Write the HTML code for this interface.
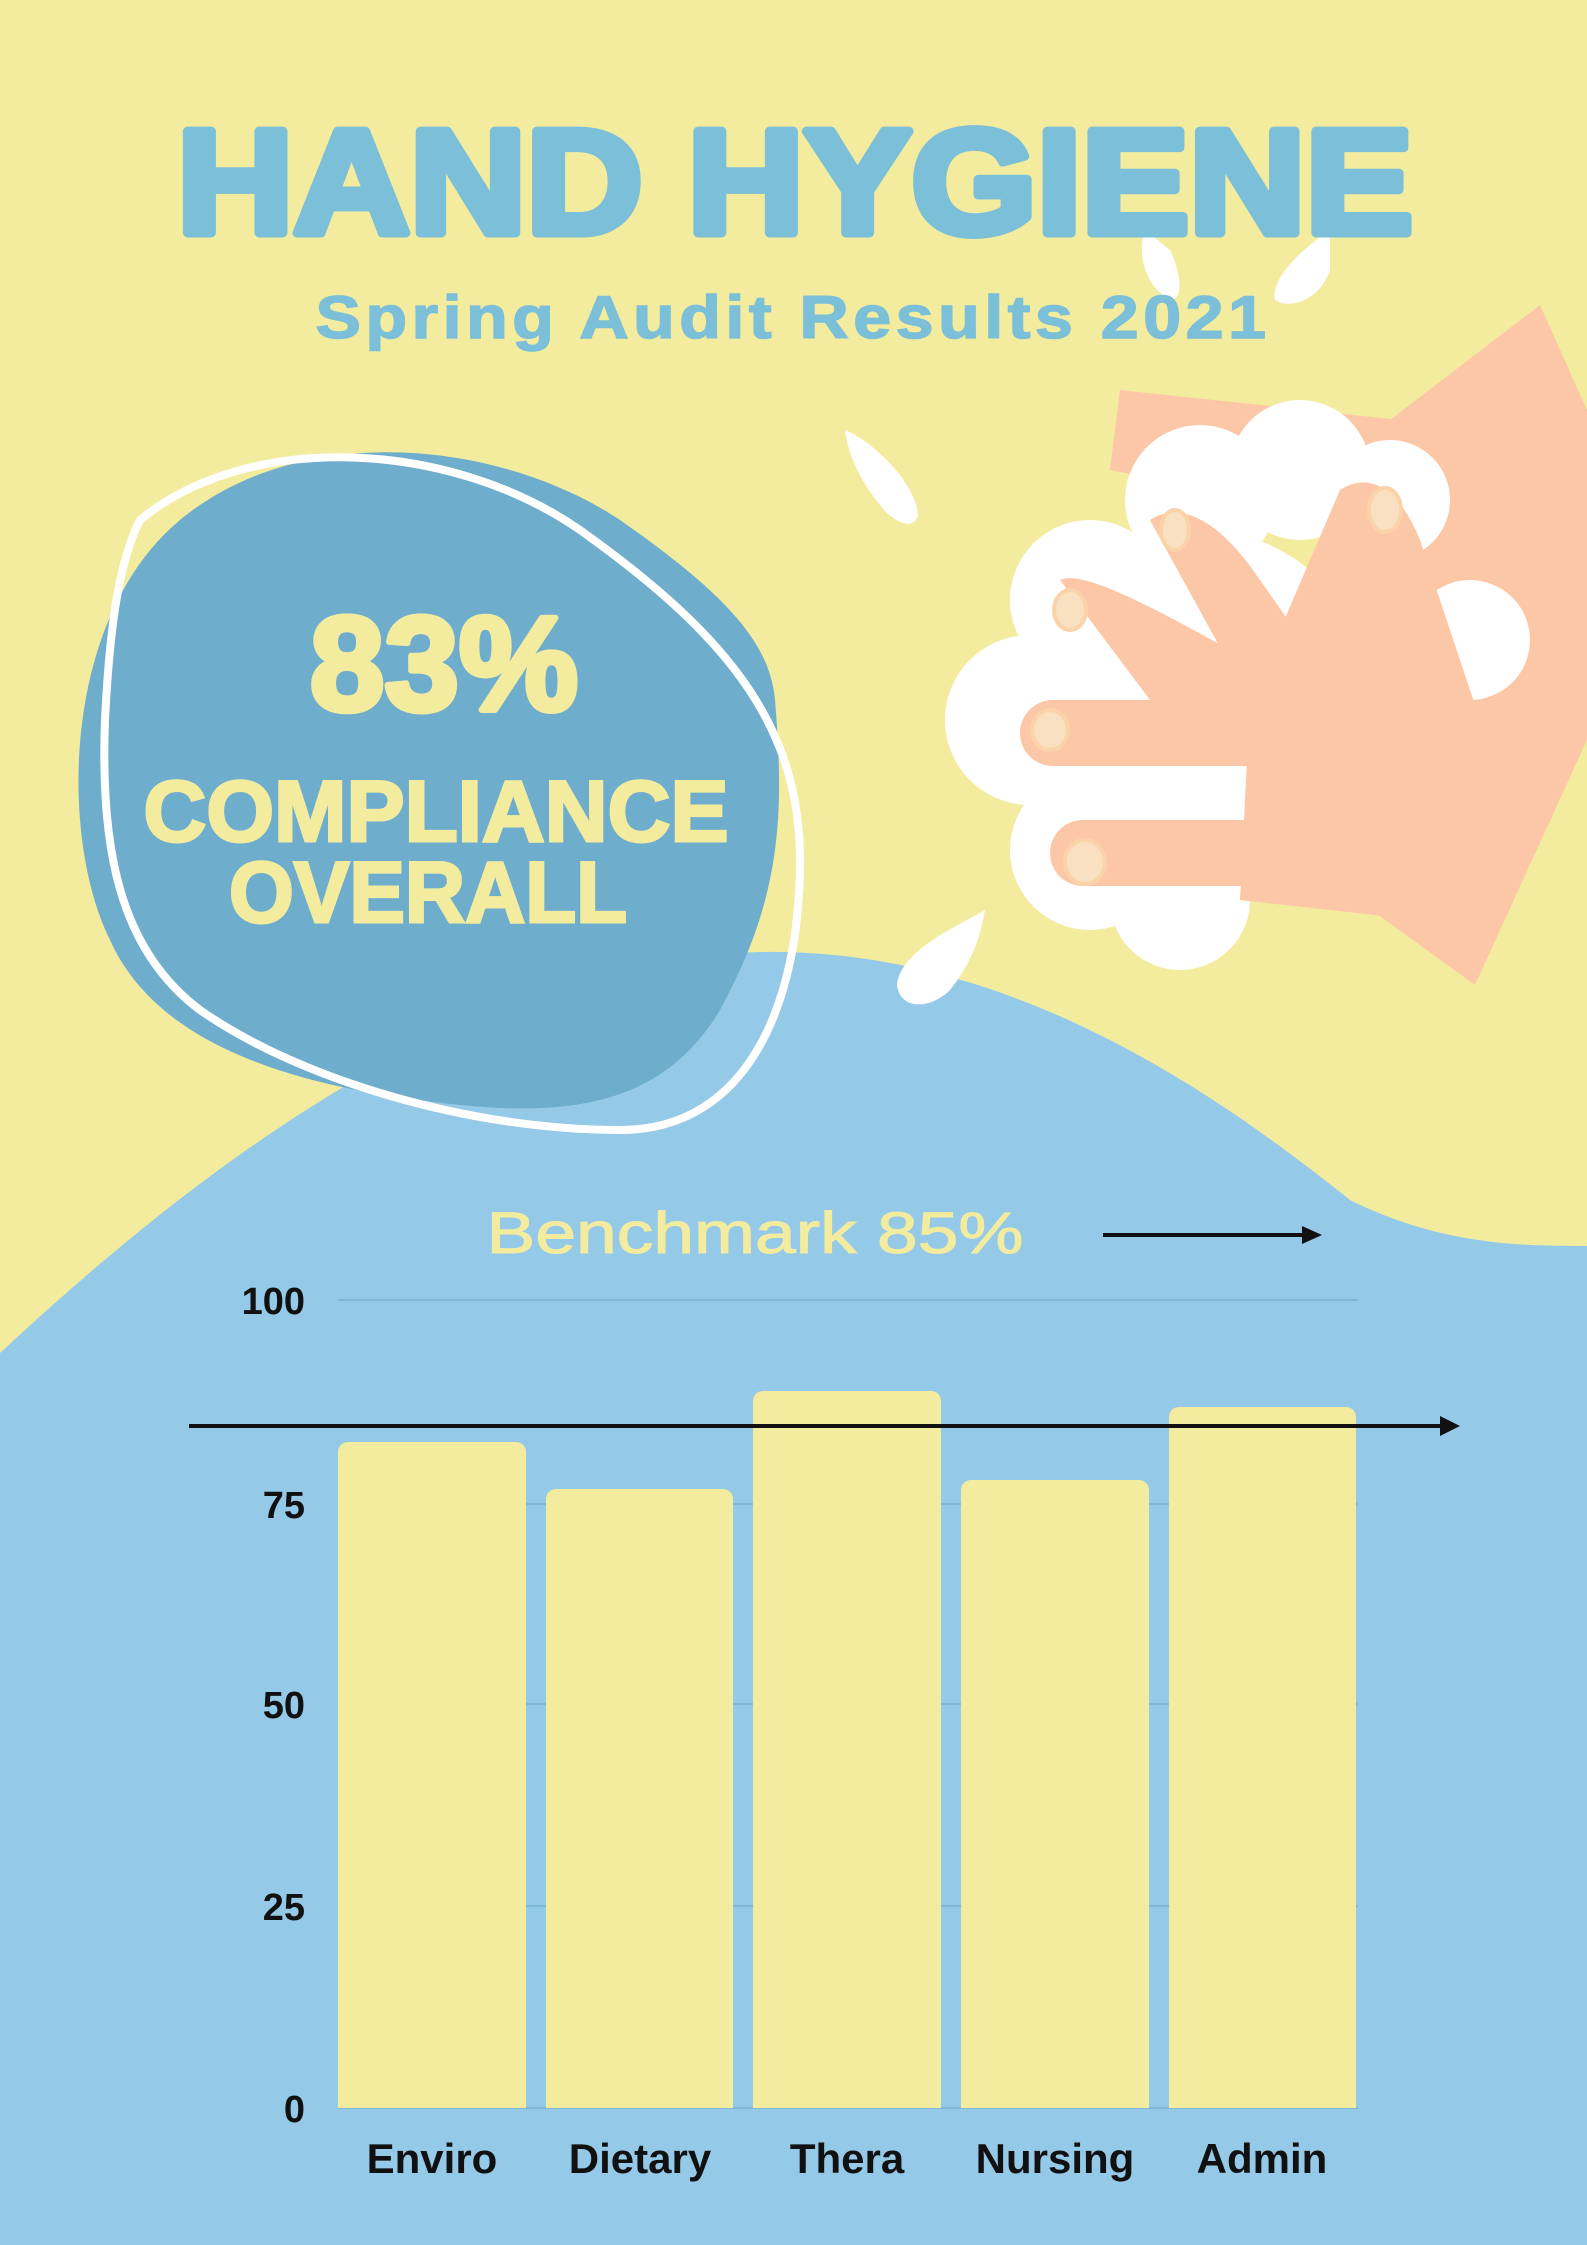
<!DOCTYPE html>
<html><head><meta charset="utf-8"><style>
html,body{margin:0;padding:0}
body{width:1587px;height:2245px;position:relative;overflow:hidden;background:#f3ec9e;font-family:"Liberation Sans",sans-serif}
svg{position:absolute;left:0;top:0}
</style></head><body>
<svg width="1587" height="2245" viewBox="0 0 1587 2245">
<path d="M0,1353 C250,1120 500,960 760,952 C1000,948 1200,1080 1350,1200 C1450,1250 1540,1245 1587,1246 L1587,2245 L0,2245 Z" fill="#95c9e8"/>
<path d="M845,430 C870,440 915,480 918,515 C915,530 895,525 880,505 C860,480 848,455 845,430Z" fill="#fff"/>
<path d="M985,910 C960,925 900,950 897,985 C900,1010 930,1010 950,990 C970,965 980,940 985,910Z" fill="#fff"/>
<path d="M1145,230 C1135,260 1150,290 1170,300 C1185,300 1180,270 1170,250Z" fill="#fff"/>
<path d="M1330,230 C1300,250 1270,280 1275,300 C1290,310 1320,300 1330,270Z" fill="#fff"/>
<path d="M1390,420 L1540,305 L1587,410 L1587,740 L1475,985 L1330,880 Z" fill="#fcc7a6"/>
<path d="M1120,390 L1400,420 L1360,520 L1110,470 Z" fill="#fcc7a6"/>
<g fill="#fff">
<circle cx="1200" cy="500" r="75"/><circle cx="1300" cy="470" r="70"/><circle cx="1390" cy="500" r="60"/>
<circle cx="1090" cy="600" r="80"/><circle cx="1030" cy="720" r="85"/><circle cx="1090" cy="850" r="80"/>
<circle cx="1180" cy="900" r="70"/><circle cx="1470" cy="640" r="60"/><circle cx="1200" cy="700" r="170"/>
</g>
<g fill="#fcc7a6">
<path d="M1150,520 C1180,500 1220,520 1260,580 L1330,680 L1260,720 Z"/>
<path d="M1060,580 C1080,570 1140,600 1230,650 L1280,740 L1150,700 Z"/>
<rect x="1020" y="700" width="320" height="66" rx="33"/>
<rect x="1050" y="820" width="310" height="66" rx="33"/>
<path d="M1340,490 C1370,470 1400,490 1420,540 L1480,720 L1575,740 L1520,880 L1420,920 L1240,900 L1250,700 Z"/>
</g>
<g fill="#f8e0c0" stroke="#fbd3a8" stroke-width="4">
<ellipse cx="1175" cy="530" rx="14" ry="20"/><ellipse cx="1385" cy="510" rx="16" ry="22"/>
<ellipse cx="1070" cy="610" rx="16" ry="20"/><ellipse cx="1050" cy="730" rx="18" ry="20"/><ellipse cx="1085" cy="862" rx="20" ry="22"/>
</g>
<path d="M180,520 C300,420 500,440 620,520 C720,590 770,640 775,700 C785,820 780,900 720,1010 C660,1110 560,1120 420,1100 C260,1080 150,1030 110,940 C60,840 60,620 180,520Z" fill="#6fadcd"/>
<path d="M140,520 C250,430 450,440 580,530 C720,630 800,720 800,860 C800,1000 750,1130 620,1130 C470,1130 300,1080 200,1010 C120,950 100,850 105,720 C110,620 120,560 140,520Z" fill="none" stroke="#fff" stroke-width="8"/>
<g stroke="#7fb7d8" stroke-width="2">
<line x1="338" y1="1300" x2="1358" y2="1300"/><line x1="338" y1="1504" x2="1358" y2="1504"/>
<line x1="338" y1="1704" x2="1358" y2="1704"/><line x1="338" y1="1906" x2="1358" y2="1906"/>
<line x1="338" y1="2108" x2="1358" y2="2108"/>
</g>
<g fill="#f3ec9e">
<path d="M338,2108 V1452 a10,10 0 0 1 10,-10 H516 a10,10 0 0 1 10,10 V2108Z"/>
<path d="M546,2108 V1499 a10,10 0 0 1 10,-10 H723 a10,10 0 0 1 10,10 V2108Z"/>
<path d="M753,2108 V1401 a10,10 0 0 1 10,-10 H931 a10,10 0 0 1 10,10 V2108Z"/>
<path d="M961,2108 V1490 a10,10 0 0 1 10,-10 H1139 a10,10 0 0 1 10,10 V2108Z"/>
<path d="M1169,2108 V1417 a10,10 0 0 1 10,-10 H1346 a10,10 0 0 1 10,10 V2108Z"/>
</g>
<g stroke="#111" stroke-width="4">
<line x1="189" y1="1426" x2="1445" y2="1426"/><line x1="1103" y1="1235" x2="1308" y2="1235"/>
</g>
<path d="M1460,1426 L1440,1416 L1440,1436Z" fill="#111"/>
<path d="M1322,1235 L1302,1226 L1302,1244Z" fill="#111"/>
<g font-family="Liberation Sans, sans-serif" font-weight="bold" text-anchor="middle">
<text x="795" y="233" font-size="148" fill="#7bbfd8" stroke="#7bbfd8" stroke-width="9" stroke-linejoin="round" textLength="1236" lengthAdjust="spacingAndGlyphs">HAND HYGIENE</text>
<text x="793" y="338" font-size="60" fill="#7bbfd8" stroke="#7bbfd8" stroke-width="1.5" letter-spacing="4" textLength="955" lengthAdjust="spacingAndGlyphs">Spring Audit Results 2021</text>
<text x="444" y="710" font-size="134" fill="#f3ec9e" stroke="#f3ec9e" stroke-width="6" stroke-linejoin="round">83%</text>
<text x="436" y="841" font-size="86" fill="#f3ec9e" stroke="#f3ec9e" stroke-width="3" textLength="585" lengthAdjust="spacingAndGlyphs">COMPLIANCE</text>
<text x="428" y="922" font-size="86" fill="#f3ec9e" stroke="#f3ec9e" stroke-width="3" textLength="398" lengthAdjust="spacingAndGlyphs">OVERALL</text>
<text x="755" y="1253" font-size="58" font-weight="normal" fill="#f3ec9e" stroke="#f3ec9e" stroke-width="1" textLength="537" lengthAdjust="spacingAndGlyphs">Benchmark 85%</text>
</g>
<g font-family="Liberation Sans, sans-serif" font-weight="bold" font-size="38" fill="#111" text-anchor="end">
<text x="305" y="1314">100</text><text x="305" y="1518">75</text><text x="305" y="1718">50</text>
<text x="305" y="1920">25</text><text x="305" y="2122">0</text>
</g>
<g font-family="Liberation Sans, sans-serif" font-weight="bold" font-size="42" fill="#111" text-anchor="middle">
<text x="432" y="2173">Enviro</text><text x="640" y="2173">Dietary</text><text x="847" y="2173">Thera</text>
<text x="1055" y="2173">Nursing</text><text x="1262" y="2173">Admin</text>
</g>
</svg>
</body></html>
